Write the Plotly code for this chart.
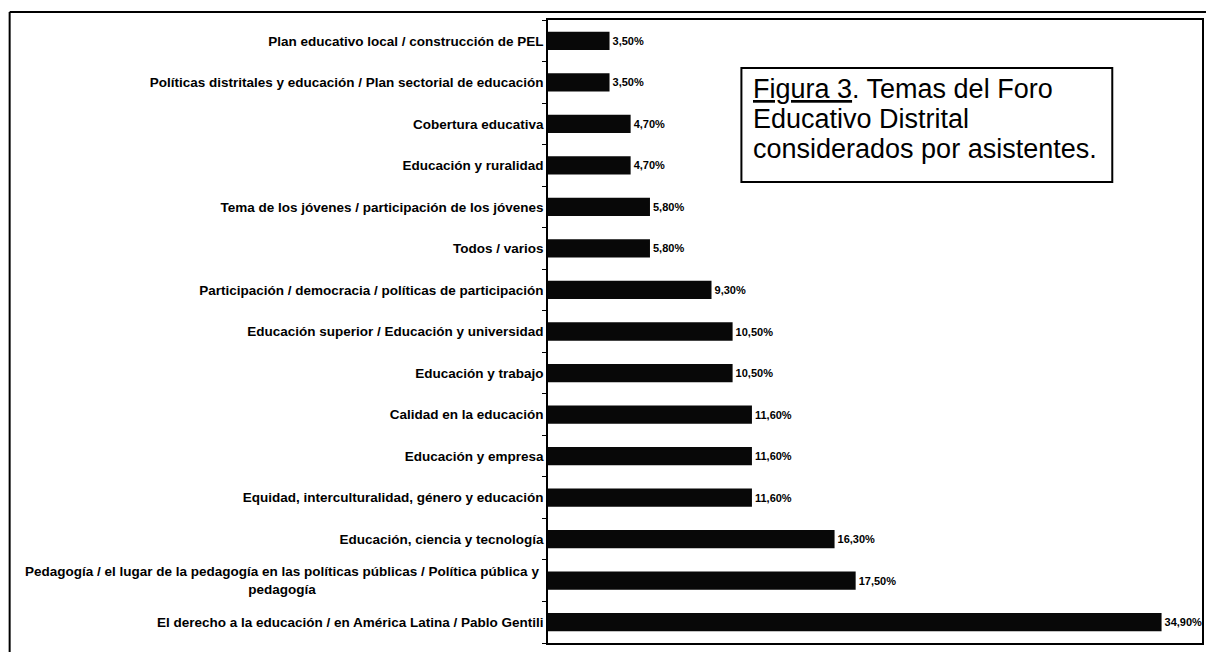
import plotly.graph_objects as go

categories = [
    "Plan educativo local / construcción de PEL",
    "Políticas distritales y educación / Plan sectorial de educación",
    "Cobertura educativa",
    "Educación y ruralidad",
    "Tema de los jóvenes / participación de los jóvenes",
    "Todos / varios",
    "Participación / democracia / políticas de participación",
    "Educación superior / Educación y universidad",
    "Educación y trabajo",
    "Calidad en la educación",
    "Educación y empresa",
    "Equidad, interculturalidad, género y educación",
    "Educación, ciencia y tecnología",
    "Pedagogía / el lugar de la pedagogía en las políticas públicas / Política pública y<br>pedagogía",
    "El derecho a la educación / en América Latina / Pablo Gentili",
]
values = [3.5, 3.5, 4.7, 4.7, 5.8, 5.8, 9.3, 10.5, 10.5, 11.6, 11.6, 11.6, 16.3, 17.5, 34.9]
value_labels = [f"{v:.2f}".replace(".", ",") + "%" for v in values]

title_lines = ["<u>Figura 3</u>. Temas del Foro", "Educativo Distrital", "considerados por asistentes."]

W, H = 1208, 652
ML, MR, MT, MB = 548, 4, 20, 9
PW, PH = W - ML - MR, H - MT - MB
FONT = "Arial, Liberation Sans"
LABEL_SIZE = 13.5


def px(x):
    return (x - ML) / PW


def py(y):
    return 1 - (y - MT) / PH


# multi-line labels are drawn as centred annotations, the rest as tick labels
tick_text = ["" if "<br>" in c else c for c in categories]

fig = go.Figure(go.Bar(
    x=values, y=categories, orientation="h",
    marker=dict(color="#080808", line=dict(width=0)),
    text=value_labels, textposition="outside", cliponaxis=False,
    textfont=dict(family=FONT, size=11, color="black", weight="bold"),
))

fig.update_layout(
    width=W, height=H,
    margin=dict(l=ML, r=MR, t=MT, b=MB),
    paper_bgcolor="white", plot_bgcolor="white",
    showlegend=False, bargap=0.56,
    font=dict(family=FONT, color="black"),
)
fig.update_xaxes(range=[0, 37.2], showgrid=False, zeroline=False, showticklabels=False,
                 ticks="", showline=True, linecolor="black", linewidth=1.5, mirror=True)
fig.update_yaxes(autorange="reversed", showgrid=False, ticks="outside", tickson="boundaries",
                 ticklen=4, tickcolor="black", tickwidth=1,
                 tickmode="array", tickvals=categories, ticktext=tick_text,
                 showline=True, linecolor="black", linewidth=1.5, mirror=True,
                 tickfont=dict(family=FONT, size=LABEL_SIZE, color="black", weight="bold"))

for c in categories:
    if "<br>" in c:
        fig.add_annotation(xref="paper", yref="y", x=px(541), y=c, text=c, showarrow=False,
                           xanchor="right", yanchor="middle", align="center",
                           font=dict(family=FONT, size=LABEL_SIZE, color="black", weight="bold"))

# outer frame lines
fig.add_shape(type="line", xref="paper", yref="paper", x0=px(8), x1=px(8), y0=py(12), y1=py(652),
              line=dict(color="black", width=2))
fig.add_shape(type="line", xref="paper", yref="paper", x0=px(8), x1=px(1208), y0=py(12), y1=py(12),
              line=dict(color="black", width=2))

# title box
fig.add_shape(type="rect", xref="paper", yref="paper", x0=px(742), x1=px(1114), y0=py(68), y1=py(182),
              line=dict(color="black", width=2), fillcolor="white", layer="above")
for i, t in enumerate(title_lines):
    fig.add_annotation(xref="paper", yref="paper", x=px(752), y=py(89 + 30 * i), text=t,
                       showarrow=False, xanchor="left", yanchor="middle",
                       font=dict(family=FONT, size=27, color="black"))

fig.write_html("out.html")
